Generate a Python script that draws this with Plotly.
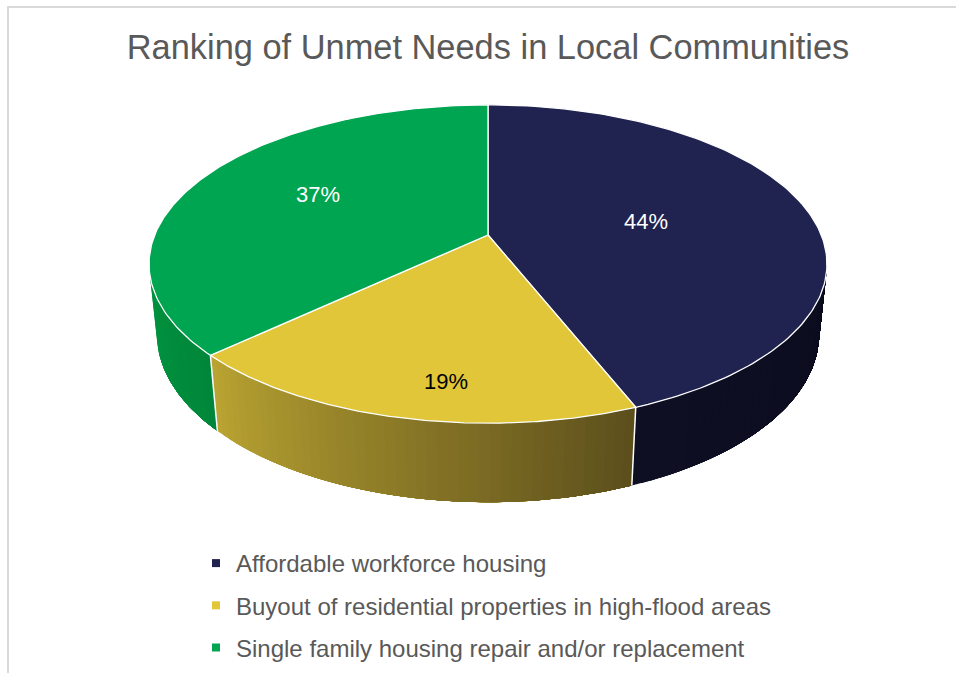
import numpy as np
import plotly.graph_objects as go

# ---- data -------------------------------------------------------------
categories = [
    "Affordable workforce housing",
    "Buyout of residential properties in high-flood areas",
    "Single family housing repair and/or replacement",
]
values = [44, 19, 37]

# ---- style ------------------------------------------------------------
top_colors = ["#202250", "#E0C638", "#00A551"]
side_colors = [("#0E0F23", "#0B0C1E"), ("#BAA432", "#5B4E1C"), ("#01943F", "#00863A")]
label_colors = ["#FFFFFF", "#000000", "#FFFFFF"]
# label placement inside each slice: (radius fraction, angular nudge in degrees)
label_place = [(0.49, -0.6), (0.82, 5.1), (0.60, -3.7)]
TEXT_GREY = "#595959"
FONT = "Liberation Sans, Arial, sans-serif"

# ---- simple perspective camera for a flat cylinder (unit radius) ---------
TILT = np.radians(27.5)   # view elevation
DIST = 4.864              # camera distance, in pie radii
FOCAL = 1621.0            # projection scale
THICK = 0.239             # pie thickness, in pie radii


def project(theta, r=1.0, h=0.0):
    X = r * np.cos(theta)
    Z = r * np.sin(theta)
    depth = DIST + Z * np.cos(TILT) - h * np.sin(TILT)
    up = h * np.cos(TILT) + Z * np.sin(TILT)
    return FOCAL * X / depth, FOCAL * up / depth


def hex_rgb(c):
    c = c.lstrip("#")
    return np.array([int(c[i:i + 2], 16) for i in (0, 2, 4)], dtype=float)


def mix(c0, c1, f):
    a = hex_rgb(c0) * (1 - f) + hex_rgb(c1) * f
    return "rgb({:.0f},{:.0f},{:.0f})".format(*a)


total = float(sum(values))
starts, ends = [], []
a = np.pi / 2  # first slice begins at twelve o'clock, running clockwise
for v in values:
    starts.append(a)
    a = a - 2 * np.pi * v / total
    ends.append(a)

# visible part of the cylinder wall (between the two silhouette lines)
sil = np.arcsin(1.0 / (DIST * np.cos(TILT)))
vis_left, vis_right = -np.pi + sil, -sil

fig = go.Figure()

# ---- side walls with horizontal shading ----------------------------------
# each band runs from its own left edge to the right end of the wall, so
# later bands simply cover the earlier ones and no seams appear
for i in range(len(values)):
    lo = max(ends[i], vis_left)
    hi = min(starts[i], vis_right)
    if lo >= hi:
        continue
    n = max(2, int(np.degrees(hi - lo) / 1.5))
    edges = np.linspace(lo, hi, n + 1)
    for k in range(n):
        ts = np.linspace(edges[k], hi, 60)
        xt, yt = project(ts, 1.0, 0.0)
        xb, yb = project(ts[::-1], 1.0, -THICK)
        xs = np.concatenate([xt, xb, xt[:1]])
        ys = np.concatenate([yt, yb, yt[:1]])
        f = (0.5 * (edges[k] + edges[k + 1]) - lo) / (hi - lo)
        col = mix(side_colors[i][0], side_colors[i][1], f)
        fig.add_trace(go.Scatter(
            x=xs, y=ys, mode="lines", fill="toself", fillcolor=col,
            line=dict(width=0, color=col), hoverinfo="skip", showlegend=False))

# white seams where slices meet on the wall
for i in range(len(values)):
    t = starts[i]
    if vis_left < t < vis_right:
        x0, y0 = project(t, 1.0, 0.0)
        x1, y1 = project(t, 1.0, -THICK)
        fig.add_trace(go.Scatter(
            x=[x0, x1], y=[y0, y1], mode="lines",
            line=dict(color="white", width=1.5), hoverinfo="skip", showlegend=False))

# ---- top faces -----------------------------------------------------------
for i in range(len(values)):
    ts = np.linspace(starts[i], ends[i], 160)
    xa, ya = project(ts, 1.0, 0.0)
    xs = np.concatenate([[0.0], xa, [0.0]])
    ys = np.concatenate([[0.0], ya, [0.0]])
    fig.add_trace(go.Scatter(
        x=xs, y=ys, mode="lines", fill="toself", fillcolor=top_colors[i],
        line=dict(color="white", width=1.3), hoverinfo="skip", showlegend=False))

# ---- percentage labels ---------------------------------------------------
for i, v in enumerate(values):
    r, nudge = label_place[i]
    mid = 0.5 * (starts[i] + ends[i]) + np.radians(nudge)
    lx, ly = project(mid, r, 0.0)
    fig.add_annotation(
        x=float(lx), y=float(ly), text=f"{v}%", showarrow=False,
        font=dict(family=FONT, size=22, color=label_colors[i]))

# ---- legend entries ------------------------------------------------------
for i, name in enumerate(categories):
    fig.add_trace(go.Scatter(
        x=[None], y=[None], mode="markers", name=name, legendgroup=str(i),
        marker=dict(symbol="square", size=8, color=top_colors[i])))

W, H = 956, 673
CX, CY = 488, 235  # pie centre on the page

fig.update_layout(
    width=W, height=H,
    margin=dict(l=0, r=0, t=0, b=0),
    paper_bgcolor="white", plot_bgcolor="white",
    title=dict(text="Ranking of Unmet Needs in Local Communities",
               x=488 / W, xanchor="center", y=1 - 47 / H, yanchor="middle",
               yref="container",
               font=dict(family=FONT, size=34.4, color=TEXT_GREY)),
    xaxis=dict(range=[-CX, W - CX], visible=False, fixedrange=True),
    yaxis=dict(range=[-(H - CY), CY], visible=False, fixedrange=True),
    showlegend=True,
    legend=dict(x=196 / W, xanchor="left", y=1 - 541 / H, yanchor="top",
                orientation="v", tracegroupgap=8, bgcolor="rgba(0,0,0,0)",
                font=dict(family=FONT, size=24, color=TEXT_GREY)),
    shapes=[dict(type="rect", xref="paper", yref="paper",
                 x0=8 / W, x1=1.2, y0=-0.2, y1=1 - 7 / H,
                 line=dict(color="#D9D9D9", width=2), fillcolor="rgba(0,0,0,0)",
                 layer="below")],
)

fig.write_html("out.html")
